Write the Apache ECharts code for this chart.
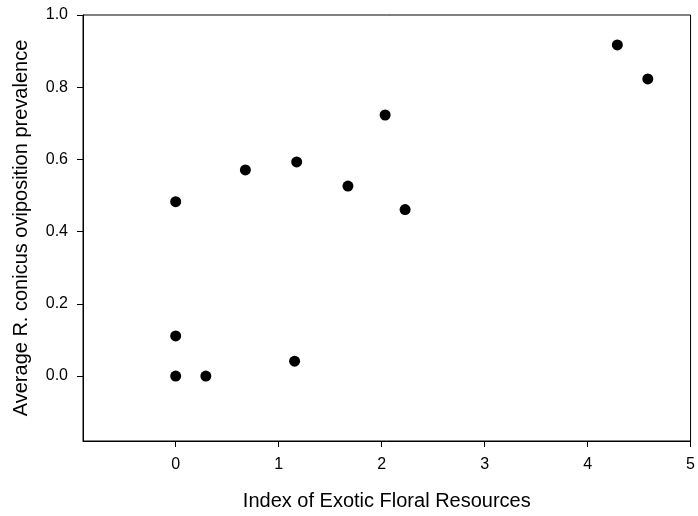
<!DOCTYPE html>
<html>
<head>
<meta charset="utf-8">
<script src="https://cdn.jsdelivr.net/npm/echarts@6/dist/echarts.min.js"></script>
<style>
  html, body { margin: 0; padding: 0; background: #fff; }
  #chart { width: 698px; height: 516px; }
</style>
</head>
<body>
<div id="chart"></div>
<script>
// Exotic floral resource index per site and mean oviposition prevalence
const floralIndex = [0, 0, 0, 0.293, 0.677, 1.155, 1.175, 1.673, 2.034, 2.228, 4.289, 4.585];
const prevalence  = [0, 0.483, 0.111, 0, 0.571, 0.041, 0.593, 0.526, 0.723, 0.461, 0.917, 0.823];
const xTicks = [0, 1, 2, 3, 4, 5];
const yTicks = [0, 0.2, 0.4, 0.6, 0.8, 1.0];

const points = floralIndex.map((x, i) => [x, prevalence[i]]);
const font = 'Arial, "Liberation Sans", sans-serif';
const ink = '#000';

const chart = echarts.init(document.getElementById('chart'), null, { renderer: 'canvas' });
chart.setOption({
  animation: false,
  backgroundColor: '#fff',
  grid: {
    left: 83, right: 6, top: 15, bottom: 75,
    show: true, borderColor: ink, borderWidth: 1
  },
  xAxis: {
    type: 'value',
    min: -0.9, max: 5,
    name: 'Index of Exotic Floral Resources',
    nameLocation: 'middle',
    nameGap: 50,
    nameTextStyle: { fontFamily: font, fontSize: 20, color: ink },
    axisLine: { show: true, onZero: false, lineStyle: { color: ink, width: 1 } },
    axisTick: { show: true, inside: false, length: 6, customValues: xTicks, lineStyle: { color: ink } },
    axisLabel: { customValues: xTicks, margin: 16, fontFamily: font, fontSize: 16, color: ink },
    splitLine: { show: false }
  },
  yAxis: {
    type: 'value',
    min: -0.18, max: 1.0,
    name: 'Average R. conicus oviposition prevalence',
    nameLocation: 'middle',
    nameGap: 52,
    nameTextStyle: { fontFamily: font, fontSize: 20, color: ink },
    axisLine: { show: true, onZero: false, lineStyle: { color: ink, width: 1 } },
    axisTick: { show: true, inside: false, length: 6, customValues: yTicks, lineStyle: { color: ink } },
    axisLabel: {
      customValues: yTicks, margin: 15, fontFamily: font, fontSize: 16, color: ink,
      formatter: v => v.toFixed(1)
    },
    splitLine: { show: false }
  },
  series: [{
    type: 'scatter',
    data: points,
    symbol: 'circle',
    symbolSize: 11,
    itemStyle: { color: ink, opacity: 1 }
  }]
});
</script>
</body>
</html>
